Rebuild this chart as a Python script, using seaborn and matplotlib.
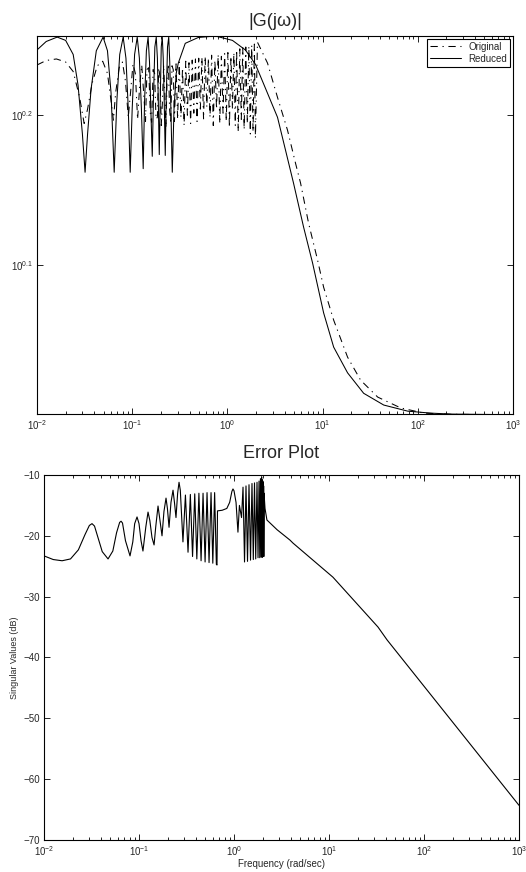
import numpy as np
import pandas as pd
import matplotlib
matplotlib.use("Agg")
import matplotlib.pyplot as plt
from matplotlib.ticker import NullLocator, FixedLocator, FixedFormatter
import seaborn as sns

# |G(jw)| -- reduced model
red_freq = [0.010, 0.0125, 0.0163, 0.020, 0.024, 0.027, 0.030, 0.032, 0.034, 0.037, 0.042,
            0.0495, 0.055, 0.060, 0.0647, 0.069, 0.074, 0.0804, 0.086, 0.091, 0.0953, 0.100,
            0.106, 0.113, 0.119, 0.125, 0.1305, 0.135, 0.141, 0.147, 0.152, 0.157, 0.1625,
            0.167, 0.173, 0.179, 0.184, 0.188, 0.1925, 0.197, 0.202, 0.207, 0.212, 0.217,
            0.2225, 0.228, 0.235, 0.242, 0.248, 0.255, 0.2637, 0.275, 0.290, 0.305, 0.361,
            0.495, 0.748, 1.13, 1.546, 1.97, 2.51, 3.36, 4.08, 4.95, 6.31, 7.85, 10.25,
            13.07, 18.3, 27.0, 43.9, 78.5, 137, 222, 1000]
red_mag = [1.752, 1.775, 1.787, 1.778, 1.740, 1.660, 1.540, 1.452, 1.540, 1.650, 1.750,
           1.787, 1.750, 1.640, 1.452, 1.620, 1.740, 1.787, 1.730, 1.600, 1.452, 1.600,
           1.740, 1.787, 1.730, 1.600, 1.460, 1.620, 1.750, 1.787, 1.720, 1.600, 1.488,
           1.620, 1.760, 1.787, 1.730, 1.620, 1.492, 1.620, 1.760, 1.787, 1.730, 1.620,
           1.490, 1.630, 1.760, 1.787, 1.720, 1.600, 1.452, 1.600, 1.690, 1.717, 1.770,
           1.786, 1.790, 1.778, 1.752, 1.714, 1.652, 1.580, 1.502, 1.428, 1.335, 1.263, 1.170,
           1.110, 1.067, 1.034, 1.0155, 1.006, 1.003, 1.0015, 1.0005]

# |G(jw)| -- original model
org_freq = [0.010, 0.0125, 0.016, 0.020, 0.024, 0.028, 0.0313, 0.034, 0.038, 0.043, 0.049,
            0.055, 0.060, 0.0635, 0.067, 0.073, 0.079, 0.085, 0.091, 0.096, 0.102, 0.108,
            0.114, 0.120, 0.126, 0.132, 0.138, 0.143, 0.149, 0.155, 0.160, 0.166, 0.172,
            0.178, 0.184, 0.190, 0.196, 0.202, 0.208, 0.214, 0.220, 0.226, 0.233, 0.240,
            0.247, 0.254, 0.262, 0.270, 0.278, 0.289, 0.300, 0.312, 0.325, 0.338, 0.351,
            0.365, 0.380, 0.395, 0.411, 0.427, 0.444, 0.462, 0.480, 0.500, 0.520, 0.540,
            0.562, 0.584, 0.608, 0.632, 0.657, 0.683, 0.711, 0.739, 0.769, 0.800, 0.832,
            0.865, 0.900, 0.936, 0.973, 1.012, 1.05, 1.09, 1.13, 1.17, 1.21, 1.25, 1.30,
            1.35, 1.40, 1.45, 1.50, 1.56, 1.62, 1.68, 1.74, 1.80, 1.86, 1.92, 1.97, 2.07,
            2.64, 3.36, 4.28, 5.2, 5.87, 7.12, 8.85, 10.25, 13.07, 18.3, 25.1, 37.9, 66.2,
            116, 222, 1000]
org_mag = [1.712, 1.724, 1.728, 1.720, 1.695, 1.630, 1.565, 1.600, 1.665, 1.710, 1.722,
           1.690, 1.620, 1.573, 1.640, 1.705, 1.720, 1.670, 1.580, 1.640, 1.715, 1.690,
           1.575, 1.660, 1.712, 1.640, 1.570, 1.700, 1.705, 1.590, 1.568, 1.700, 1.690,
           1.575, 1.580, 1.705, 1.680, 1.560, 1.620, 1.712, 1.640, 1.555, 1.680, 1.715,
           1.600, 1.565, 1.710, 1.700, 1.570, 1.715, 1.575, 1.720, 1.580, 1.705, 1.560,
           1.722, 1.585, 1.718, 1.565, 1.725, 1.590, 1.728, 1.570, 1.730, 1.600, 1.732,
           1.575, 1.735, 1.605, 1.730, 1.580, 1.738, 1.560, 1.725, 1.600, 1.740, 1.565,
           1.735, 1.590, 1.742, 1.570, 1.745, 1.555, 1.735, 1.600, 1.745, 1.560, 1.752,
           1.545, 1.755, 1.575, 1.758, 1.550, 1.760, 1.565, 1.762, 1.540, 1.765, 1.545,
           1.768, 1.530, 1.773, 1.717, 1.629, 1.549, 1.472, 1.428, 1.343, 1.269, 1.217,
           1.157, 1.093, 1.055, 1.028, 1.011, 1.003, 1.0012, 1.0003]

# error plot (singular values, dB)
err_freq = [0.010, 0.0125, 0.0155, 0.019, 0.023, 0.027, 0.030, 0.032, 0.034, 0.037, 0.041,
            0.0472, 0.053, 0.058, 0.0625, 0.0647, 0.067, 0.072, 0.0804, 0.086, 0.090,
            0.0953, 0.100, 0.105, 0.110, 0.118, 0.1244, 0.130, 0.137, 0.144, 0.150, 0.1585,
            0.164, 0.1746, 0.183, 0.1924, 0.199, 0.207, 0.217, 0.228, 0.236, 0.245, 0.255,
            0.2637, 0.272,
            0.290, 0.308, 0.328, 0.347, 0.366, 0.386, 0.406, 0.427, 0.450, 0.472, 0.496,
            0.520, 0.546, 0.573, 0.598, 0.625, 0.652, 0.662,
            0.670, 0.75, 0.84, 0.90, 0.95, 0.975, 1.0, 1.05, 1.10, 1.14, 1.20,
            1.244, 1.290, 1.337, 1.387, 1.438, 1.492, 1.546, 1.596, 1.643, 1.692, 1.746,
            1.79, 1.834, 1.866, 1.897, 1.925, 1.953, 1.967, 1.981, 1.995, 2.01, 2.02,
            2.03, 2.04, 2.05, 2.06, 2.07,
            2.12, 2.22, 2.84, 3.88, 4.18, 11.0, 32.8, 40.8, 1000]
err_db = [-23.3, -23.9, -24.1, -23.8, -22.3, -19.8, -18.3, -18.0, -18.4, -20.3, -22.6,
          -23.8, -22.5, -19.5, -17.8, -17.6, -17.9, -20.8, -23.3, -21.0, -18.0,
          -16.9, -18.0, -20.8, -22.5, -18.5, -16.1, -17.5, -20.3, -21.5, -18.5, -15.1,
          -16.8, -20.0, -16.0, -13.8, -15.5, -18.6, -14.5, -12.5, -14.5, -17.0, -13.0,
          -11.2, -12.5,
          -21.0, -13.3, -22.7, -13.2, -23.4, -13.1, -23.8, -13.0, -24.1, -13.0, -24.3,
          -12.9, -24.4, -12.9, -24.5, -12.9, -24.7, -24.8,
          -15.9, -15.8, -15.5, -14.5, -12.7, -12.3, -12.6, -14.5, -19.4, -15.0, -17.0,
          -12.0, -24.3, -11.8, -24.2, -11.6, -24.0, -11.4, -23.9, -11.3, -23.8, -11.2,
          -23.6, -11.0, -23.6, -10.6, -23.5, -10.3, -23.5, -10.8, -23.5, -11.0, -23.4,
          -11.3, -23.4, -11.8, -23.4, -13.0,
          -15.5, -17.4, -19.0, -20.7, -21.2, -26.8, -35.0, -37.1, -64.3]

top_df = pd.concat([
    pd.DataFrame({"freq": org_freq, "mag": org_mag, "series": "Original"}),
    pd.DataFrame({"freq": red_freq, "mag": red_mag, "series": "Reduced"}),
], ignore_index=True)
err_df = pd.DataFrame({"freq": err_freq, "db": err_db})

sns.set_style("ticks")
plt.rcParams["font.family"] = ["Liberation Sans", "DejaVu Sans"]
plt.rcParams["mathtext.fontset"] = "custom"
plt.rcParams["mathtext.rm"] = "Liberation Sans"
plt.rcParams["mathtext.it"] = "Liberation Sans:italic"

fig = plt.figure(figsize=(5.26, 8.72), dpi=100)
ax1 = fig.add_axes([0.0703, 0.5252, 0.905, 0.4335])
ax2 = fig.add_axes([0.0837, 0.0367, 0.903, 0.4186])

sns.lineplot(data=top_df, x="freq", y="mag", style="series",
             dashes={"Original": (7, 4.5, 1.2, 4.5), "Reduced": ""},
             color="k", lw=0.75, sort=False, estimator=None, ax=ax1)
ax1.set_xscale("log")
ax1.set_yscale("log")
ax1.set_xlim(1e-2, 1e3)
ax1.set_ylim(1.0016, 1.79)
ax1.yaxis.set_major_locator(FixedLocator([10 ** 0.1, 10 ** 0.2]))
ax1.yaxis.set_major_formatter(FixedFormatter([r"$10^{0.1}$", r"$10^{0.2}$"]))
ax1.yaxis.set_minor_locator(NullLocator())
ax1.set_xlabel("")
ax1.set_ylabel("")
ax1.set_title("|G(jω)|", fontsize=13, pad=7)
sns.move_legend(ax1, "upper right", title=None, fontsize=7, frameon=True,
                fancybox=False, edgecolor="k", framealpha=1, borderaxespad=0.3,
                handlelength=3.2, borderpad=0.3, labelspacing=0.2)
ax1.get_legend().get_frame().set_linewidth(0.8)

sns.lineplot(data=err_df, x="freq", y="db", color="k", lw=0.8,
             sort=False, estimator=None, ax=ax2)
ax2.set_xscale("log")
ax2.set_xlim(1e-2, 1e3)
ax2.set_ylim(-70, -10)
ax2.set_yticks([-70, -60, -50, -40, -30, -20, -10])
ax2.set_title("Error Plot", fontsize=13, pad=12)
ax2.set_xlabel("Frequency (rad/sec)", fontsize=7, labelpad=1)
ax2.set_ylabel("Singular Values (dB)", fontsize=6.5, labelpad=3)

for ax in (ax1, ax2):
    ax.tick_params(which="both", direction="in", top=True, right=True,
                   labelsize=7, width=0.6, color="k", pad=3)
    ax.tick_params(which="major", length=4)
    ax.tick_params(which="minor", length=2)
    for s in ax.spines.values():
        s.set_linewidth(0.8)
        s.set_color("k")

fig.savefig("out.png", dpi=100)
